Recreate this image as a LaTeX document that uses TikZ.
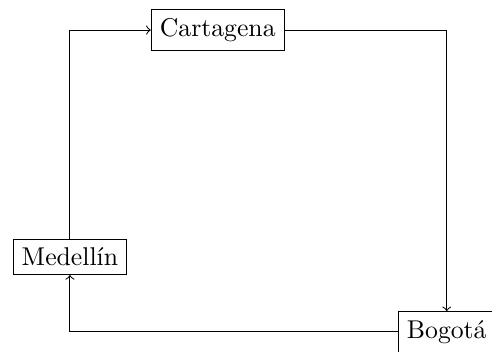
\documentclass[tikz,border=0pt]{standalone}
\begin{document}
\begin{tikzpicture}[x=1pt,y=1pt,
  city/.style={draw, rectangle, inner sep=0.3333em},
  link/.style={->, draw}]
  \useasboundingbox (0,0) rectangle (191.4,-136.6);
  \node[city] (cart) at (84.7,-11.7) {Cartagena};
  \node[city] (med) at (27.2,-99.9) {Medellín};
  \node[city] (bog) at (173.8,-129.1) {Bogotá};
  \draw[link] (cart) -| (bog);
  \draw[link] (bog) -| (med);
  \draw[link] (med) |- (cart);
\end{tikzpicture}
\end{document}
